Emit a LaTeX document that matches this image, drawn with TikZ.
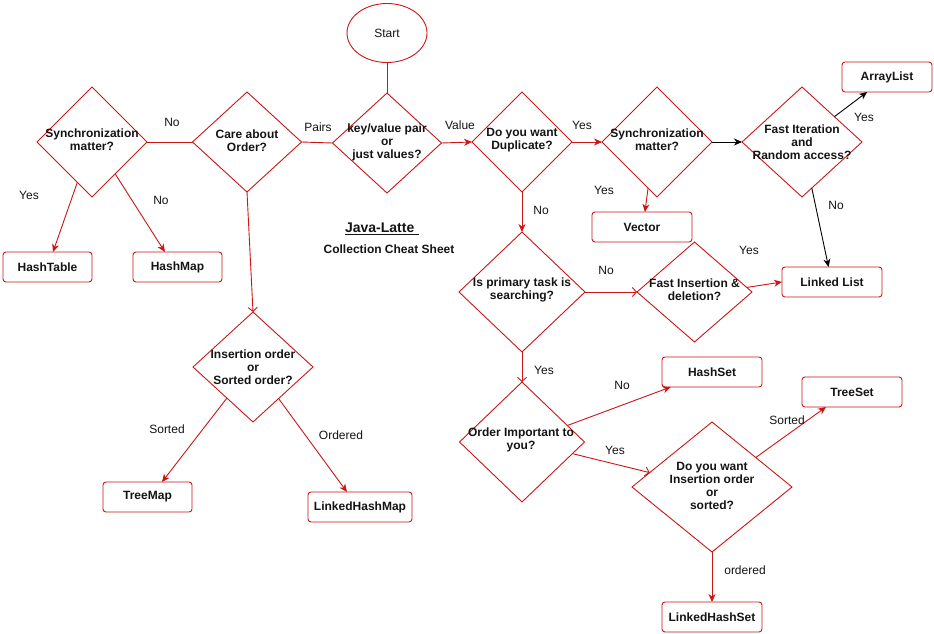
\documentclass[tikz,border=0pt]{standalone}
\usepackage{fontspec}
\setmainfont{Liberation Sans}
\usetikzlibrary{shapes.geometric,arrows.meta}
\definecolor{lred}{RGB}{204,22,22}
\definecolor{ink}{RGB}{20,20,20}
\tikzset{
  dia/.style={diamond, draw=lred, line width=0.9pt, inner sep=0pt, outer sep=0pt, aspect=1},
  box/.style={rectangle, rounded corners=3pt, draw=lred, line width=0.9pt, inner sep=0pt, outer sep=0pt,
    minimum height=30pt, font=\fontsize{12}{13}\selectfont\bfseries, text=ink},
  dtext/.style={align=center, font=\fontsize{12}{13}\selectfont\bfseries, text=ink, inner sep=0pt},
  lab/.style={font=\fontsize{12}{13}\selectfont, text=ink, inner sep=0pt},
  conn/.style={draw=lred, line width=0.9pt},
  fa/.style={conn, -{Stealth[length=8pt,width=7pt,inset=2.5pt]}},
  oa/.style={conn, -{Straight Barb[length=4pt,width=9pt]}},
  ka/.style={draw=black, line width=0.9pt, -{Stealth[length=8pt,width=7pt,inset=2.5pt]}}
}
\begin{document}
\begin{tikzpicture}[x=1pt,y=-1pt]
\useasboundingbox[fill=white] (0,0) rectangle (934,634);

% start
\node[ellipse, draw=lred, line width=0.9pt, minimum width=80pt, minimum height=59pt, inner sep=0pt, outer sep=0pt,
  font=\fontsize{12}{13}\selectfont, text=ink] (start) at (387,33) {Start};

% diamonds
\node[dia, minimum width=110pt, minimum height=110pt] (sync1) at (92,142) {};
\node[dia, minimum width=109pt, minimum height=100pt] (care) at (247,142) {};
\node[dia, minimum width=109pt, minimum height=100pt] (kv) at (387,143) {};
\node[dia, minimum width=120pt, minimum height=110pt] (ins) at (253,367) {};
\node[dia, minimum width=100pt, minimum height=100pt] (dup) at (522,142) {};
\node[dia, minimum width=110pt, minimum height=110pt] (sync2) at (657,142) {};
\node[dia, minimum width=120pt, minimum height=110pt] (fi) at (802,142) {};
\node[dia, minimum width=126pt, minimum height=120pt] (isp) at (522,292) {};
\node[dia, minimum width=115pt, minimum height=100pt] (fins) at (694.5,292) {};
\node[dia, minimum width=125pt, minimum height=120pt] (oi) at (522,442) {};
\node[dia, minimum width=160pt, minimum height=130pt] (dyw) at (712,487) {};

% diamond texts
\node[dtext] (sync1t) at (92,140) {Synchronization\\matter?};
\node[dtext] (caret) at (247,141) {Care about\\Order?};
\node[dtext] (kvt) at (387,142) {key/value pair\\or\\just values?};
\node[dtext] (inst) at (253,367) {Insertion order\\or\\Sorted order?};
\node[dtext] (dupt) at (522,140) {Do you want\\Duplicate?};
\node[dtext] (sync2t) at (657,140) {Synchronization\\matter?};
\node[dtext] (fit) at (802,142) {Fast Iteration\\and\\Random access?};
\node[dtext] (ispt) at (522,290) {Is primary task is\\searching?};
\node[dtext] (finst) at (694.5,290) {Fast Insertion \&\\deletion?};
\node[dtext] (oit) at (521,440) {Order Important to\\you?};
\node[dtext] (dywt) at (712,486) {Do you want\\Insertion order\\or\\sorted?};

% boxes
\node[box, minimum width=89pt] (ht) at (47.5,267) {HashTable};
\node[box, minimum width=89pt] (hm) at (177.5,267) {HashMap};
\node[box, minimum width=89pt] (tm) at (147.5,497) {TreeMap};
\node[box, minimum width=104pt] (lhm) at (360,507) {LinkedHashMap};
\node[box, minimum width=90pt] (al) at (887,77) {ArrayList};
\node[box, minimum width=100pt] (vec) at (642,227) {Vector};
\node[box, minimum width=100pt] (ll) at (832,282) {Linked List};
\node[box, minimum width=100pt] (hs) at (712,372) {HashSet};
\node[box, minimum width=100pt] (ts) at (852,392) {TreeSet};
\node[box, minimum width=100pt] (lhs) at (712,617) {LinkedHashSet};

% title
\node[font=\fontsize{14}{16}\selectfont\bfseries, text=ink, inner sep=0pt] (title) at (382,229) {\underline{Java-Latte\,\,}};
\node[dtext] (subtitle) at (389,249) {Collection Cheat Sheet};

% connectors
\draw[conn] (start.south) -- (kv.north);
\draw[conn] (kv.west) -- (care.east);
\draw[conn] (care.west) -- (sync1.east);
\draw[fa] (sync1.250) -- (ht.70);
\draw[fa] (sync1.306) -- (hm.130);
\draw[oa] (care.south) -- (ins.north);
\draw[fa] (ins.230) -- (tm.46);
\draw[fa] (ins.309) -- (lhm.131);
\draw[fa] (kv.east) -- (dup.west);
\draw[fa] (dup.east) -- (sync2.west);
\draw[ka] (sync2.east) -- (fi.west);
\draw[ka] (fi.38) -- (al.217);
\draw[ka] (fi.282) -- (ll.103);
\draw[fa] (sync2.259) -- (vec.79);
\draw[fa] (dup.south) -- (isp.north);
\draw[oa] (isp.east) -- (fins.west);
\draw[fa] (fins.5) -- (ll.west);
\draw[oa] (isp.south) -- (oi.north);
\draw[fa] (oi.20) -- (hs.200);
\draw[oa] (oi.347) -- (dyw.167);
\draw[fa] (dyw.34) -- (ts.210);
\draw[fa] (dyw.south) -- (lhs.north);

% connector labels
\node[lab] (l1) at (172,122) {No};
\node[lab] (l2) at (318,127) {Pairs};
\node[lab] (l3) at (29,195) {Yes};
\node[lab] (l4) at (161,200) {No};
\node[lab] (l5) at (167,429) {Sorted};
\node[lab] (l6) at (341,435) {Ordered};
\node[lab] (l7) at (460,125) {Value};
\node[lab] (l8) at (582,125) {Yes};
\node[lab] (l9) at (864,117) {Yes};
\node[lab] (l10) at (836,205) {No};
\node[lab] (l11) at (604,190) {Yes};
\node[lab] (l12) at (541,210) {No};
\node[lab] (l13) at (606,270) {No};
\node[lab] (l14) at (749,250) {Yes};
\node[lab] (l15) at (544,370) {Yes};
\node[lab] (l16) at (622,385) {No};
\node[lab] (l17) at (615,450) {Yes};
\node[lab] (l18) at (787,420) {Sorted};
\node[lab] (l19) at (745,570) {ordered};
\end{tikzpicture}
\end{document}
